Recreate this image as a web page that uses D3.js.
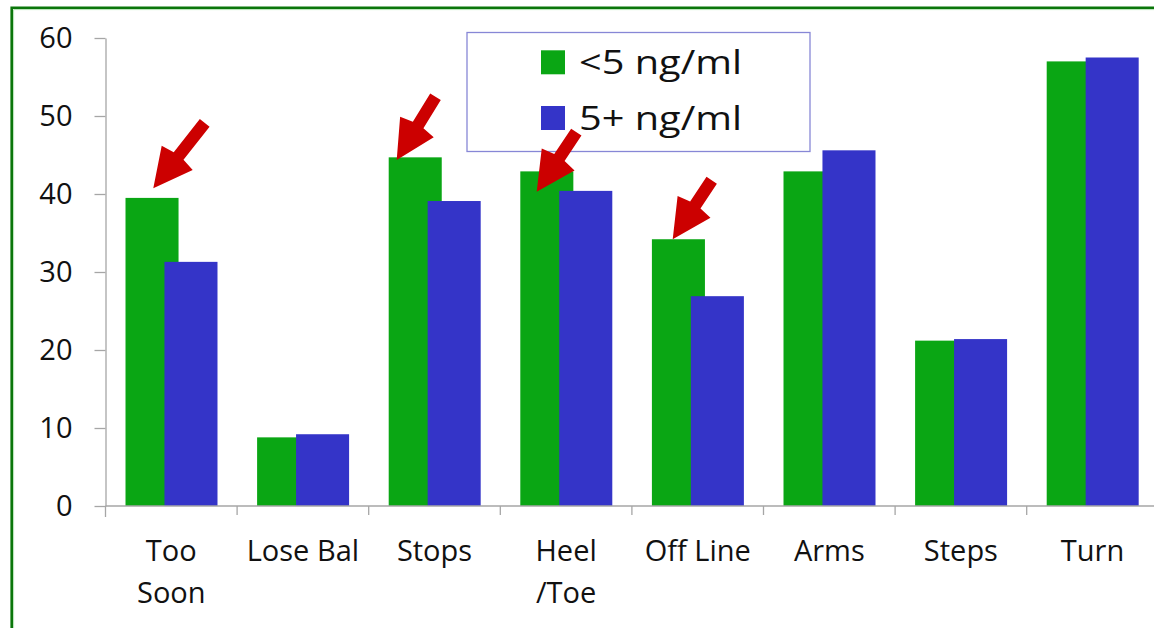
<!DOCTYPE html>
<html>
<head>
<meta charset="utf-8">
<script src="https://cdn.jsdelivr.net/npm/d3@7"></script>
<style>
  html, body { margin: 0; padding: 0; background: #ffffff; }
  svg { display: block; }
  text { font-family: "Open Sans", "DejaVu Sans", sans-serif; fill: #111; }
</style>
</head>
<body>
<svg id="chart" width="1154" height="628"></svg>
<script>
// Categories (multi-line labels split on "\n")
const categories = ["Too\nSoon", "Lose Bal", "Stops", "Heel\n/Toe", "Off Line", "Arms", "Steps", "Turn"];
// Series values
const lowVitD  = [39.5, 8.8, 44.7, 42.9, 34.2, 42.9, 21.2, 57.0];   // <5 ng/ml
const highVitD = [31.3, 9.2, 39.1, 40.4, 26.9, 45.6, 21.4, 57.5];   // 5+ ng/ml
const seriesNames = ["<5 ng/ml", "5+ ng/ml"];
const yTicks = [0, 10, 20, 30, 40, 50, 60];
// Categories flagged with a red arrow (arrow points at the <5 ng/ml bar)
const flagged = ["Too\nSoon", "Stops", "Heel\n/Toe", "Off Line"];

// Styling / layout
const colors = ["#0aa614", "#3434c8"];
const arrowColor = "#cc0000";
const axisColor = "#a6a6a6";
// per-arrow placement relative to the top-left corner of the flagged bar (px)
const arrowLayout = [
  { dx: 27.8, dy: -9.6, vx: 51.4, vy: -65.5 },
  { dx: 8.0,  dy: 2.7,  vx: 38.8, vy: -63.3 },
  { dx: 16.4, dy: 20.3, vx: 39.6, vy: -59.5 },
  { dx: 20.8, dy: 0.0,  vx: 39.0, vy: -59.0 }
];

const svg = d3.select("#chart");

// Frame
svg.append("path")
  .attr("d", "M11.7,628 V7.7 H1154")
  .attr("fill", "none").attr("stroke", "#0b760b").attr("stroke-width", 2.6);
svg.append("path")
  .attr("d", "M13.6,628 V9.6 H1154")
  .attr("fill", "none").attr("stroke", "#b5e2b5").attr("stroke-width", 1);

const x0 = 105.5, bandW = 131.6;
const x = d3.scaleBand()
  .domain(categories)
  .range([x0, x0 + bandW * categories.length])
  .paddingInner(0).paddingOuter(0);

const y = d3.scaleLinear().domain([0, 60]).range([506, 38]);

const bw = x.bandwidth();
const barW = bw * 0.403;
const offsets = [bw * 0.152, bw * 0.448];

// Y axis
const yAxis = svg.append("g")
  .attr("transform", `translate(${x0},0)`)
  .call(d3.axisLeft(y).tickValues(yTicks).tickSize(11).tickPadding(22).tickSizeOuter(0));
yAxis.select(".domain").attr("stroke", axisColor).attr("stroke-width", 1.3);
yAxis.selectAll(".tick line").attr("stroke", axisColor).attr("stroke-width", 1.3);
yAxis.selectAll(".tick text")
  .attr("font-size", 29).attr("font-family", "Open Sans").attr("fill", "#111");
// axis line continues below the baseline
svg.append("line")
  .attr("x1", x0).attr("x2", x0).attr("y1", y(0)).attr("y2", y(0) + 11)
  .attr("stroke", axisColor).attr("stroke-width", 1.3);

// Bars
const series = [lowVitD, highVitD];
series.forEach((vals, si) => {
  svg.append("g").selectAll("rect")
    .data(categories.map((c, i) => ({ c, v: vals[i] })))
    .join("rect")
    .attr("x", d => x(d.c) + offsets[si])
    .attr("width", barW)
    .attr("y", d => y(d.v))
    .attr("height", d => y(0) - y(d.v))
    .attr("fill", colors[si]);
});

// X axis baseline and category boundary ticks
svg.append("line")
  .attr("x1", x0).attr("x2", 1154).attr("y1", y(0)).attr("y2", y(0))
  .attr("stroke", axisColor).attr("stroke-width", 1.3);
svg.append("g").selectAll("line")
  .data(categories.slice(1).concat(["__end"]))
  .join("line")
  .attr("x1", (d, i) => x0 + bw * (i + 1))
  .attr("x2", (d, i) => x0 + bw * (i + 1))
  .attr("y1", y(0)).attr("y2", y(0) + 9)
  .attr("stroke", axisColor).attr("stroke-width", 1.3);

// Category labels
const xAxis = svg.append("g")
  .attr("transform", `translate(0,${y(0)})`)
  .call(d3.axisBottom(x).tickSize(0).tickFormat(""));
xAxis.select(".domain").remove();
xAxis.selectAll(".tick").each(function (d) {
  const lines = d.split("\n");
  const t = d3.select(this).append("text")
    .attr("text-anchor", "middle")
    .attr("font-size", 29)
    .attr("fill", "#111");
  lines.forEach((ln, k) => {
    t.append("tspan").attr("x", 0).attr("y", 55 + k * 42).text(ln);
  });
});

// Legend
const legend = svg.append("g");
legend.append("rect")
  .attr("x", 467).attr("y", 32.5).attr("width", 343).attr("height", 119)
  .attr("fill", "#ffffff").attr("stroke", "#8787d6").attr("stroke-width", 1.3);
seriesNames.forEach((name, i) => {
  const base = 74.3 + i * 55.7;
  legend.append("rect")
    .attr("x", 541).attr("y", base - 24).attr("width", 24).attr("height", 24)
    .attr("fill", colors[i]);
  legend.append("text")
    .attr("x", 579).attr("y", base)
    .attr("font-size", 33)
    .attr("textLength", 163).attr("lengthAdjust", "spacingAndGlyphs")
    .attr("fill", "#111")
    .text(name);
});

// Red arrows pointing at the flagged bars
function arrowPath(len) {
  // along +u from tip (0) to tail (len); n is perpendicular
  const sh = 6.2, hw = 19.7, hWing = 38.7, hNeck = 41;
  return [
    [0, 0], [hWing, -hw], [hNeck, -sh], [len, -sh], [len, sh], [hNeck, sh], [hWing, hw]
  ];
}
const arrows = svg.append("g");
flagged.forEach((c, k) => {
  const i = categories.indexOf(c);
  const L = arrowLayout[k];
  const tipX = x(c) + offsets[0] + L.dx;
  const tipY = y(lowVitD[i]) + L.dy;
  const len = Math.hypot(L.vx, L.vy);
  const ux = L.vx / len, uy = L.vy / len;
  const nx = -uy, ny = ux;
  const pts = arrowPath(len).map(([a, b]) => [tipX + a * ux + b * nx, tipY + a * uy + b * ny]);
  arrows.append("path")
    .attr("d", "M" + pts.map(p => p.join(",")).join("L") + "Z")
    .attr("fill", arrowColor);
});
</script>
</body>
</html>
